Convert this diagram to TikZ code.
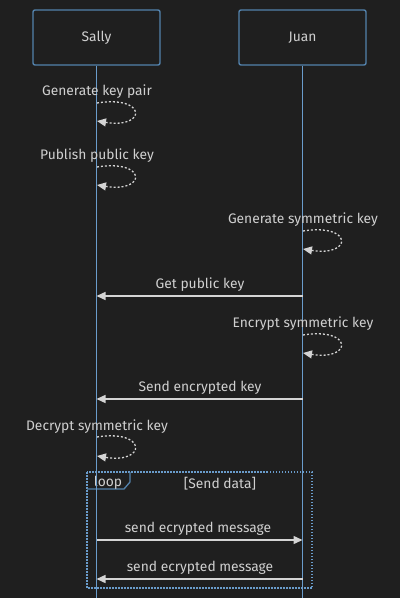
\documentclass[tikz,border=0pt]{standalone}
\usepackage{fontspec}
\setmainfont{Fira Sans}
\usetikzlibrary{arrows.meta}
\definecolor{bg}{HTML}{1F1F1F}
\definecolor{boxborder}{HTML}{5382AC}
\definecolor{lifeline}{HTML}{6A9CCB}
\definecolor{txt}{HTML}{D0D0D0}
\definecolor{msg}{HTML}{D4D4D4}
\tikzset{
  actorbox/.style={draw=boxborder, line width=1.4pt, rounded corners=2pt, minimum width=127pt, minimum height=55pt, fill=bg, text=txt, font=\fontsize{13.8}{16}\selectfont, inner sep=0pt},
  lifeln/.style={draw=lifeline, line width=1.5pt},
  msgtext/.style={text=txt, font=\fontsize{13.8}{16}\selectfont, inner sep=0pt},
  msgarrow/.style={draw=msg, line width=1.4pt, -{Triangle[length=9pt, width=8pt]}},
  selfarrow/.style={draw=msg, line width=1.3pt, dash pattern=on 2pt off 2pt, -{Triangle[length=9pt, width=8pt]}},
  loopframe/.style={draw=lifeline, line width=1.5pt, dash pattern=on 1.5pt off 1.5pt},
}
\begin{document}
\begin{tikzpicture}[x=1pt, y=-1pt]
\fill[bg] (0,0) rectangle (400,598);
\useasboundingbox (0,0) rectangle (400,598);

% loop frame
\draw[loopframe] (87,472) rectangle (312,588);
\draw[draw=boxborder, line width=1.3pt] (87,489) -- (124,489) -- (130,482) -- (130,472);
\node[msgtext] (looplbl) at (108,482.5) {loop};
\node[msgtext] (loopcond) at (220,483.5) {[Send data]};

% actors
\node[actorbox] (sally) at (96.5,37.5) {\raisebox{-1pt}{Sally}};
\node[actorbox] (juan) at (302.5,37.5) {\raisebox{-1pt}{Juan}};
\coordinate (sallyend) at (96.5,598);
\coordinate (juanend) at (302.5,598);
\draw[lifeln] (sally.south) -- (sallyend);
\draw[lifeln] (juan.south) -- (juanend);

% self messages
\node[msgtext] (t1) at (97,91.5) {Generate key pair};
\coordinate (a1) at (97,103); \coordinate (b1) at (97,121);
\draw[selfarrow] (a1) .. controls (147,95) and (147,129) .. (b1);

\node[msgtext] (t2) at (97,155.5) {Publish public key};
\coordinate (a2) at (97,167); \coordinate (b2) at (97,185);
\draw[selfarrow] (a2) .. controls (147,159) and (147,193) .. (b2);

\node[msgtext] (t3) at (303,219.5) {Generate symmetric key};
\coordinate (a3) at (303,231); \coordinate (b3) at (303,249);
\draw[selfarrow] (a3) .. controls (353,223) and (353,257) .. (b3);

\node[msgtext] (t4) at (200,284.5) {Get public key};
\coordinate (a4) at (302.5,296); \coordinate (b4) at (96.5,296);
\draw[msgarrow] (a4) -- (b4);

\node[msgtext] (t5) at (303,323.5) {Encrypt symmetric key};
\coordinate (a5) at (303,335); \coordinate (b5) at (303,353);
\draw[selfarrow] (a5) .. controls (353,327) and (353,361) .. (b5);

\node[msgtext] (t6) at (200,387.5) {Send encrypted key};
\coordinate (a6) at (302.5,399); \coordinate (b6) at (96.5,399);
\draw[msgarrow] (a6) -- (b6);

\node[msgtext] (t7) at (97,426.5) {Decrypt symmetric key};
\coordinate (a7) at (97,437); \coordinate (b7) at (97,456);
\draw[selfarrow] (a7) .. controls (147,429) and (147,464) .. (b7);

\node[msgtext] (t8) at (198,528.5) {send ecrypted message};
\coordinate (a8) at (96.5,540); \coordinate (b8) at (302.5,540);
\draw[msgarrow] (a8) -- (b8);

\node[msgtext] (t9) at (200,567.5) {send ecrypted message};
\coordinate (a9) at (302.5,579); \coordinate (b9) at (96.5,579);
\draw[msgarrow] (a9) -- (b9);
\end{tikzpicture}
\end{document}
